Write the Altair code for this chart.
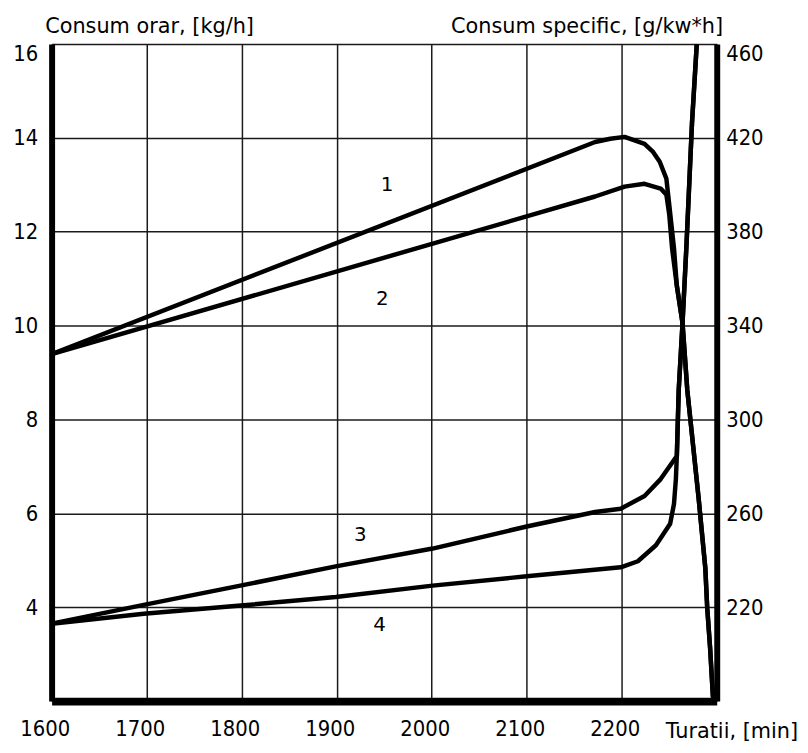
import altair as alt
import pandas as pd

# ---- data ----
# curves 1 and 2: hourly consumption [kg/h] (left axis) vs engine speed [rpm]
rpm_c1 = [1600, 2172, 2188, 2203, 2224, 2233, 2240, 2247, 2250, 2255, 2258, 2264, 2269, 2281, 2288, 2290, 2293, 2296]
kgh_c1 = [9.39, 13.91, 13.98, 14.02, 13.87, 13.70, 13.49, 13.13, 12.58, 11.65, 10.85, 10.05, 8.63, 6.31, 4.83, 3.98, 3.14, 2.09]
rpm_c2 = [1600, 2172, 2203, 2224, 2241, 2247, 2250, 2253, 2258, 2264, 2269, 2281, 2288, 2290, 2293, 2296]
kgh_c2 = [9.39, 12.75, 12.96, 13.02, 12.92, 12.79, 12.37, 11.65, 10.85, 10.05, 8.63, 6.31, 4.83, 3.98, 3.14, 2.09]

# curves 3 and 4: specific consumption [g/kWh] (right axis)
rpm_c3 = [1600, 1697, 1796, 1899, 2001, 2100, 2172, 2199, 2224, 2241, 2258, 2260, 2264, 2268, 2274, 2279]
gkwh_c3 = [213, 221, 229, 237.4, 245, 254.4, 260.6, 262, 267.4, 274.6, 284.4, 312.6, 341, 373, 426.6, 460]
rpm_c4 = [1600, 1697, 1796, 1899, 2001, 2100, 2199, 2217, 2236, 2251, 2255, 2257, 2258, 2260, 2264, 2268, 2274, 2279]
gkwh_c4 = [213, 217.2, 220.6, 224.4, 229.2, 233.2, 237, 239.6, 246.4, 255.6, 264, 274.6, 284.4, 312.6, 341, 373, 426.6, 460]

# curve number labels
lbl_text = ["1", "2", "3", "4"]
lbl_rpm = [1953, 1948, 1925, 1945]
lbl_kgh = [13.0, 10.57, 5.53, 3.63]

x_ticks = list(range(1600, 2301, 100))
yl_ticks = list(range(4, 17, 2))
yr_ticks = list(range(220, 461, 40))

# ---- tables ----
def table(name, xs, ys, col):
    return pd.DataFrame({"curve": name, "rpm": xs, col: ys, "i": range(len(xs))})

df_h = pd.concat([table("1", rpm_c1, kgh_c1, "kgh"), table("2", rpm_c2, kgh_c2, "kgh")])
df_s = pd.concat([table("3", rpm_c3, gkwh_c3, "gkwh"), table("4", rpm_c4, gkwh_c4, "gkwh")])
df_l = pd.DataFrame({"t": lbl_text, "rpm": lbl_rpm, "kgh": lbl_kgh})

TITLE_FONT = "DejaVu Sans"
LABEL_FONT = "DejaVu Sans Condensed, DejaVu Sans"

x_scale = alt.Scale(domain=[1600, 2300], nice=False, zero=False)
x_axis = alt.Axis(
    values=x_ticks, format="d",
    labelExpr="datum.value == 2300 ? '' : datum.label",
    grid=True, gridColor="#1a1a1a", gridWidth=1.5,
    ticks=False, domainColor="black", domainWidth=8,
    labelFont=LABEL_FONT, labelFontSize=22, labelColor="black",
    labelPadding=18, labelFlush=False, labelOffset=-7,
    title="Turatii, [min]", titleFont=TITLE_FONT, titleFontSize=21,
    titleFontWeight="normal", titleColor="black",
    titleX=619, titleY=37, titleAlign="left", titleBaseline="alphabetic",
)
x_enc = alt.X("rpm:Q", scale=x_scale, axis=x_axis)

yl_axis = alt.Axis(
    orient="left", values=yl_ticks,
    grid=True, gridColor="#1a1a1a", gridWidth=1.5,
    ticks=False, domainColor="black", domainWidth=6,
    labelFont=LABEL_FONT, labelFontSize=22, labelColor="black",
    labelPadding=14, labelFlush=True,
    title="Consum orar, [kg/h]", titleFont=TITLE_FONT, titleFontSize=21,
    titleFontWeight="normal", titleColor="black", titleAngle=0,
    titleX=-7, titleY=-12, titleAlign="left", titleBaseline="alphabetic",
)
yr_axis = alt.Axis(
    orient="right", values=yr_ticks, grid=False,
    ticks=False, domainColor="black", domainWidth=6,
    labelFont=LABEL_FONT, labelFontSize=22, labelColor="black",
    labelPadding=9, labelFlush=True,
    title="Consum specific, [g/kw*h]", titleFont=TITLE_FONT, titleFontSize=21,
    titleFontWeight="normal", titleColor="black", titleAngle=0,
    titleX=6, titleY=-12, titleAlign="right", titleBaseline="alphabetic",
)

yl_scale = alt.Scale(domain=[2, 16], nice=False, zero=False)
yr_scale = alt.Scale(domain=[180, 460], nice=False, zero=False)

line_style = dict(color="black", strokeWidth=4.5, strokeCap="round", strokeJoin="round", clip=True)

hourly = alt.Chart(df_h).mark_line(**line_style).encode(
    x=x_enc,
    y=alt.Y("kgh:Q", scale=yl_scale, axis=yl_axis),
    detail="curve:N",
    order="i:Q",
)
labels = alt.Chart(df_l).mark_text(font=TITLE_FONT, fontSize=20, color="black").encode(
    x=x_enc,
    y=alt.Y("kgh:Q", scale=yl_scale, axis=yl_axis),
    text="t:N",
)
specific = alt.Chart(df_s).mark_line(**line_style).encode(
    x=x_enc,
    y=alt.Y("gkwh:Q", scale=yr_scale, axis=yr_axis),
    detail="curve:N",
    order="i:Q",
)

chart = alt.layer(alt.layer(hourly, labels), specific).resolve_scale(
    y="independent"
).properties(
    width=671, height=663,
    autosize=alt.AutoSizeParams(type="none"),
    padding={"left": 44, "top": 33, "right": 84, "bottom": 40},
    background="white",
).configure_view(stroke=None)

chart.save("out.html", embed_options={"renderer": "svg", "actions": False})
